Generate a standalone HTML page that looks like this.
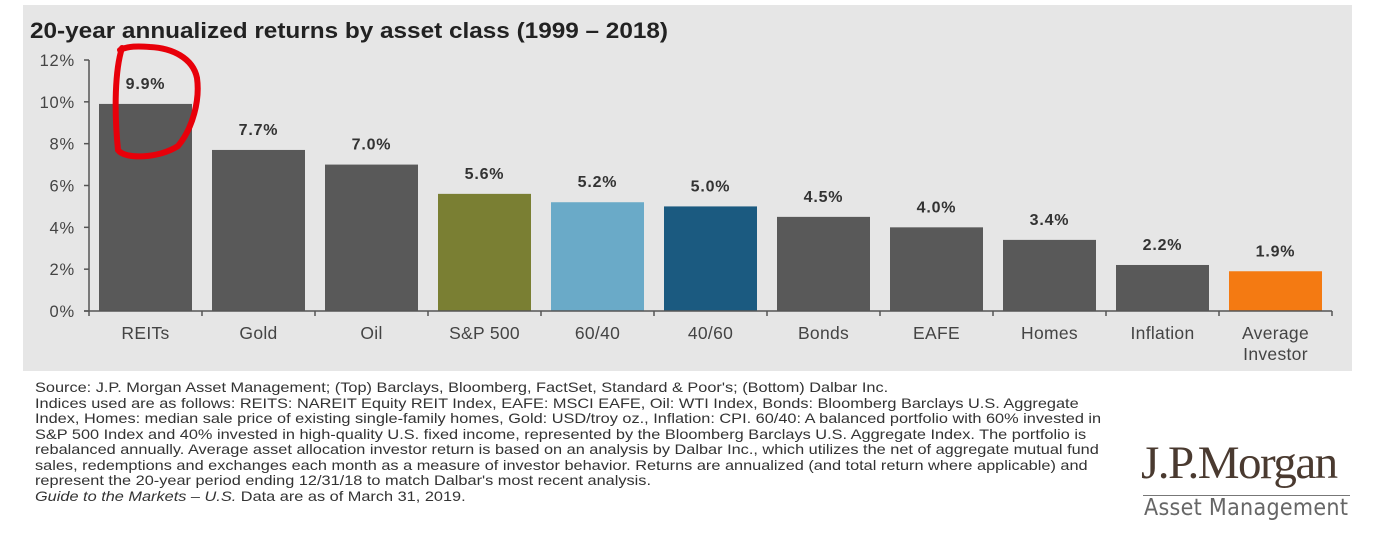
<!DOCTYPE html>
<html><head><meta charset="utf-8">
<style>
body{margin:0;width:1375px;height:540px;background:#fff;font-family:"Liberation Sans",Arial,sans-serif;overflow:hidden;position:relative}
#panel{position:absolute;left:23px;top:5px;width:1329px;height:366px;background:#e6e6e6}
#foot{position:absolute;left:35px;top:380px;font-size:14px;line-height:15.5px;color:#333;width:960px;white-space:nowrap;transform:scaleX(1.165);transform-origin:0 0}
#logo1{position:absolute;left:1141px;top:436px;font-family:"Liberation Serif",serif;font-size:47px;color:#4a3a30;letter-spacing:-1.5px}
#logoline{position:absolute;left:1143px;top:495px;width:207px;height:1px;background:#777}
#logo2{position:absolute;left:1144px;top:495px;font-family:"DejaVu Sans Condensed","Liberation Sans",sans-serif;font-size:23px;color:#666;letter-spacing:0.3px}
</style></head><body>
<div id="panel"></div>
<svg id="chart" width="1375" height="380" style="position:absolute;left:0;top:0">
<text x="30" y="38" font-size="22" font-weight="bold" fill="#222" textLength="638" lengthAdjust="spacingAndGlyphs">20-year annualized returns by asset class (1999 – 2018)</text>
<g id="g"></g>
</svg>
<div id="foot">Source: J.P. Morgan Asset Management; (Top) Barclays, Bloomberg, FactSet, Standard &amp; Poor's; (Bottom) Dalbar Inc.<br>Indices used are as follows: REITS: NAREIT Equity REIT Index, EAFE: MSCI EAFE, Oil: WTI Index, Bonds: Bloomberg Barclays U.S. Aggregate<br>Index, Homes: median sale price of existing single-family homes, Gold: USD/troy oz., Inflation: CPI. 60/40: A balanced portfolio with 60% invested in<br>S&amp;P 500 Index and 40% invested in high-quality U.S. fixed income, represented by the Bloomberg Barclays U.S. Aggregate Index. The portfolio is<br>rebalanced annually. Average asset allocation investor return is based on an analysis by Dalbar Inc., which utilizes the net of aggregate mutual fund<br>sales, redemptions and exchanges each month as a measure of investor behavior. Returns are annualized (and total return where applicable) and<br>represent the 20-year period ending 12/31/18 to match Dalbar's most recent analysis.<br><i>Guide to the Markets – U.S.</i> Data are as of March 31, 2019.</div>
<div id="logo1">J.P.Morgan</div>
<div id="logoline"></div>
<div id="logo2">Asset Management</div>
<script>
const categories=["REITs","Gold","Oil","S&P 500","60/40","40/60","Bonds","EAFE","Homes","Inflation","Average|Investor"];
const values=[9.9,7.7,7.0,5.6,5.2,5.0,4.5,4.0,3.4,2.2,1.9];
const colors=["#595959","#595959","#595959","#7a7f33","#6aaac8","#1b5a80","#595959","#595959","#595959","#595959","#f47a12"];
const yTicks=[0,2,4,6,8,10,12];
const NS="http://www.w3.org/2000/svg";
const g=document.getElementById('g');
const x0=89,x1=1332,y0=311,yTop=60,yMax=12;
const slot=(x1-x0)/categories.length;
const y=v=>y0-(v/yMax)*(y0-yTop);
const xc=i=>x0+slot*(i+0.5);
function mk(t,a){const e=document.createElementNS(NS,t);for(const k in a)e.setAttribute(k,a[k]);g.appendChild(e);return e;}
let ax=mk('line',{x1:x0,y1:yTop,x2:x0,y2:y0,stroke:'#555','stroke-width':1.5});


yTicks.forEach(t=>{
 const l=mk('line',{x1:x0-5,x2:x0,y1:y(t),y2:y(t),stroke:'#555','stroke-width':1.5});
 
 
 const tx=mk('text',{x:x0-14,y:y(t)+6,'text-anchor':'end','font-size':16.5,'letter-spacing':0.8,fill:'#444'});
 tx.textContent=t+'%';
 
 
});
values.forEach((v,i)=>{
 const bw=93;
 const r=mk('rect',{x:xc(i)-bw/2,y:y(v),width:bw,height:y0-y(v),fill:colors[i]});
 
 
 const vl=mk('text',{x:xc(i),y:y(v)-15,'text-anchor':'middle','font-size':16,'letter-spacing':0.8,'font-weight':'bold',fill:'#333'});
 vl.textContent=v.toFixed(1)+'%';
 
 
 categories[i].split('|').forEach((s,j)=>{
  const cl=mk('text',{x:xc(i),y:339+j*21,'text-anchor':'middle','font-size':17.5,'letter-spacing':0.3,fill:'#444'});
  cl.textContent=s;
  
  
 });
});
for(let i=0;i<=categories.length;i++){
 const t=mk('line',{x1:x0+slot*i,x2:x0+slot*i,y1:y0,y2:y0+5,stroke:'#555','stroke-width':1.5});
 
 
}
const xa=mk('line',{x1:x0-5,x2:x1,y1:y0,y2:y0,stroke:'#555','stroke-width':1.5});


const c=mk('path',{d:'M122,48 C115,70 114,110 118,150 C125,160 160,158 178,146 C193,128 200,100 197,78 C193,58 172,48 150,47 C138,46 128,46 120,50',fill:'none',stroke:'#e8000a','stroke-width':6,'stroke-linecap':'round'});


</script>
</body></html>
